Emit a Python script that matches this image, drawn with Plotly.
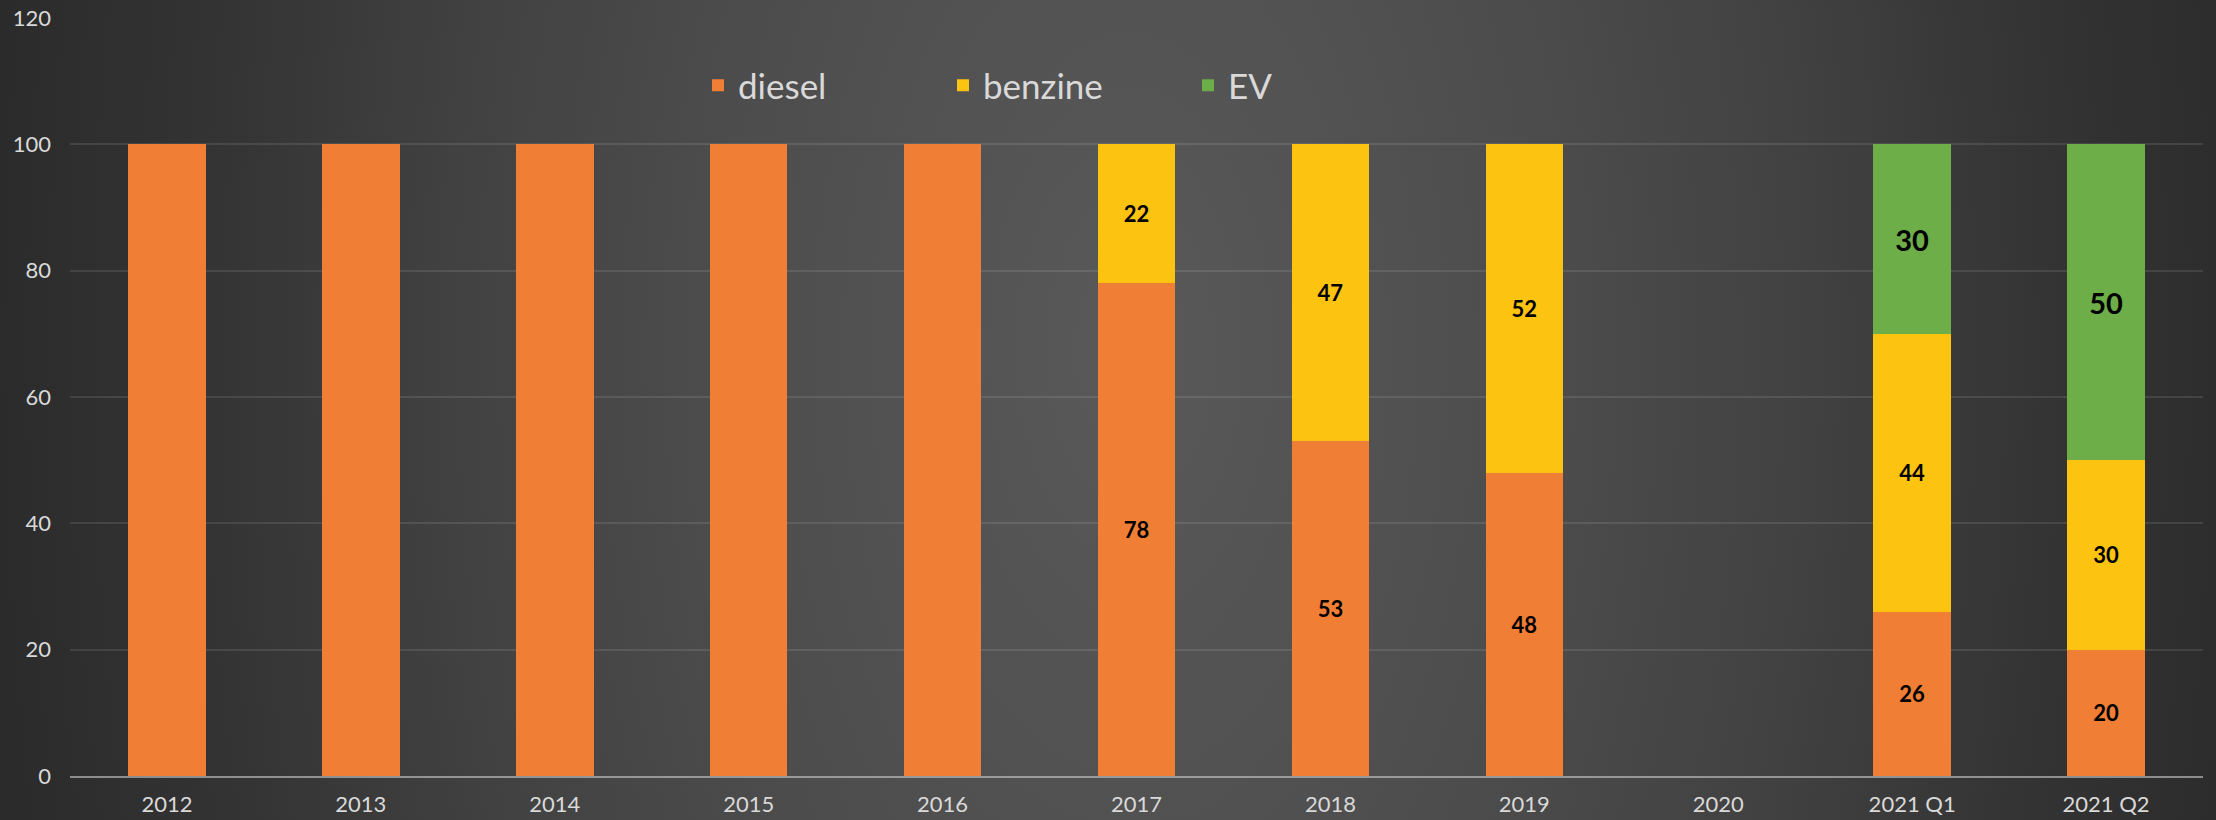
import plotly.graph_objects as go

categories = ["2012", "2013", "2014", "2015", "2016", "2017", "2018", "2019", "2020", "2021 Q1", "2021 Q2"]
diesel = [100, 100, 100, 100, 100, 78, 53, 48, None, 26, 20]
benzine = [None, None, None, None, None, 22, 47, 52, None, 44, 30]
ev = [None, None, None, None, None, None, None, None, None, 30, 50]
y_ticks = [0, 20, 40, 60, 80, 100, 120]

W, H = 2216, 820
PL, PR, PT, PB = 70, 2203, 18, 776

def labels(vals):
    return ["" if (v is None or v >= 100) else str(v) for v in vals]

FONT = "Lato"
fig = go.Figure()

# background radial glow (style only), in pixel space of the full figure
cx, cy, rx, ry = 1130, 350, 1140, 2100
fig.add_trace(go.Scatter(
    x=[cx - rx, cx + rx, cx + rx, cx - rx, cx - rx],
    y=[cy - ry, cy - ry, cy + ry, cy + ry, cy - ry],
    mode="lines", fill="toself", line=dict(width=0),
    fillgradient=dict(type="radial", colorscale=[
        [0, "#595959"], [0.35, "#4d4d4d"], [0.6, "#414141"], [0.8, "#343434"], [1, "#2b2b2b"]]),
    hoverinfo="skip", showlegend=False, xaxis="x", yaxis="y"))

series = [("diesel", diesel, "#f07f35", 22), ("benzine", benzine, "#fcc410", 22), ("EV", ev, "#6eae48", 29)]
for name, vals, col, fs in series:
    fig.add_trace(go.Bar(
        name=name, x=categories, y=vals, marker=dict(color=col, line=dict(width=0)),
        text=labels(vals), textposition="inside", insidetextanchor="middle",
        textangle=0, constraintext="none",
        textfont=dict(family=FONT, size=fs, color="black", weight="bold"),
        xaxis="x2", yaxis="y2"))

fig.update_layout(
    width=W, height=H, margin=dict(l=0, r=0, t=0, b=0, autoexpand=False),
    paper_bgcolor="#2b2b2b", plot_bgcolor="rgba(0,0,0,0)",
    barmode="stack", bargap=0.6,
    font=dict(family=FONT, color="#d9d9d9"),
    xaxis=dict(domain=[0, 1], range=[0, W], visible=False, fixedrange=True, automargin=False),
    yaxis=dict(domain=[0, 1], range=[H, 0], visible=False, fixedrange=True, automargin=False),
    xaxis2=dict(domain=[PL / W, PR / W], anchor="y2", showgrid=False, automargin=False,
                showline=True, linecolor="rgba(205,205,205,0.6)", linewidth=2,
                tickfont=dict(size=22, color="#d9d9d9"), ticks="", ticklabelstandoff=8),
    yaxis2=dict(domain=[1 - PB / H, 1 - PT / H], anchor="x2", range=[0, 120], automargin=False,
                tickvals=y_ticks, showgrid=True, gridcolor="rgba(255,255,255,0.1)", gridwidth=2,
                zeroline=False, showline=False, ticks="", ticklabelstandoff=18,
                tickfont=dict(size=22, color="#d9d9d9")),
    legend=dict(orientation="h", x=(718 - 20) / W, xanchor="left", y=1 - 85.5 / H, yanchor="middle",
                font=dict(size=35, color="#d9d9d9"), bgcolor="rgba(0,0,0,0)",
                entrywidth=200, traceorder="normal"),
)

fig.write_html("out.html", config={"displayModeBar": False},
               post_script="document.body.style.margin='0';")
